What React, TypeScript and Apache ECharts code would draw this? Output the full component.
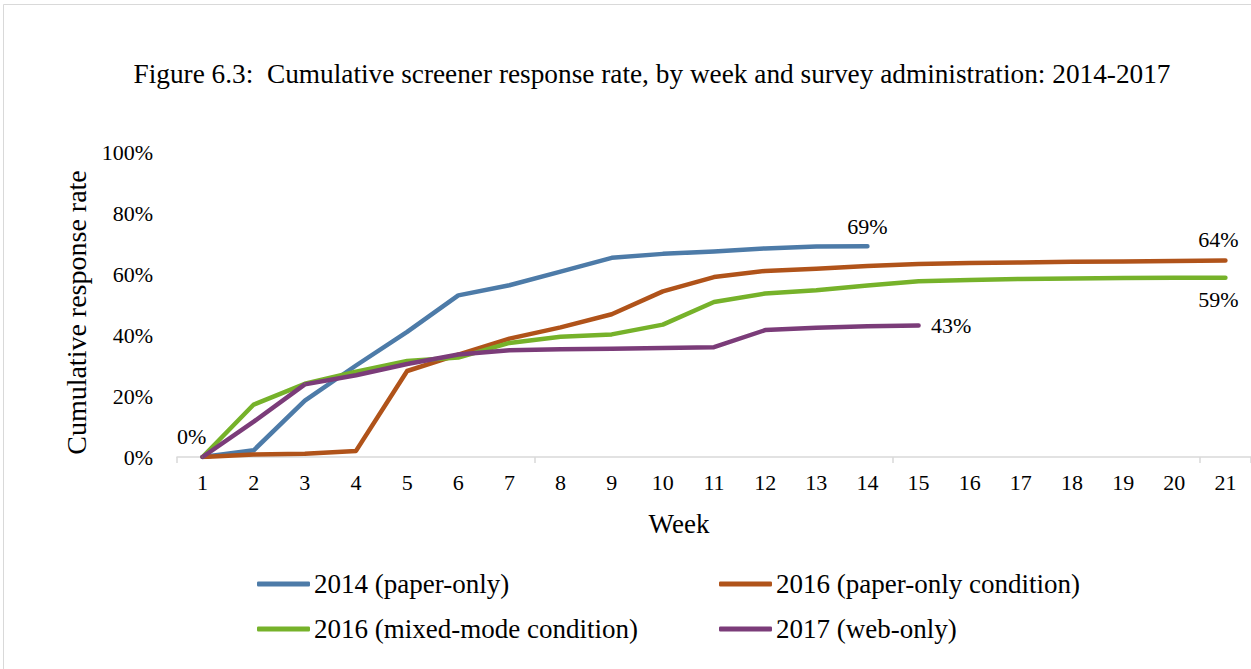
import React, { useEffect, useRef } from "react";
import * as echarts from "echarts";

const weeks = ["1","2","3","4","5","6","7","8","9","10","11","12","13","14","15","16","17","18","19","20","21"];
const yTicks = [0, 20, 40, 60, 80, 100];

const s2014 = [0, 2.2, 18.5, 30, 41, 53, 56.3, 60.8, 65.3, 66.6, 67.4, 68.4, 69, 69.1];
const s2016Paper = [0, 0.8, 1.1, 2, 28.2, 33.6, 38.8, 42.5, 46.8, 54.3, 59, 61, 61.7, 62.6, 63.3, 63.6, 63.8, 64.0, 64.1, 64.3, 64.4];
const s2016Mixed = [0, 17.2, 24, 28, 31.5, 32.6, 37.4, 39.4, 40.2, 43.4, 50.8, 53.6, 54.7, 56.2, 57.6, 58, 58.4, 58.5, 58.7, 58.8, 58.8];
const s2017Web = [0, 11.6, 23.8, 26.8, 30.5, 33.6, 35, 35.3, 35.5, 35.7, 36, 41.6, 42.4, 42.9, 43.1];

const names = ["2014 (paper-only)", "2016 (paper-only condition)", "2016 (mixed-mode condition)", "2017 (web-only)"];
const colors = ["#4d7ba8", "#b0531a", "#76b22a", "#7b3c79"];

const FONT = "'Liberation Serif', 'Times New Roman', serif";

export default function App() {
  const ref = useRef<HTMLDivElement>(null);
  useEffect(() => {
    const chart = echarts.init(ref.current!, null, { renderer: "svg" });
    const lbl = (extra: any) => ({
      show: true,
      fontFamily: FONT,
      fontSize: 22,
      color: "#000",
      formatter: (p: any) => Math.round(p.value) + "%",
      ...extra,
    });
    const withLabels = (arr: number[], labels: Record<number, any>) =>
      arr.map((v, i) => (labels[i] ? { value: v, label: labels[i] } : v));

    const lineSeries = (name: string, data: any[], color: string) => ({
      name,
      type: "line",
      data,
      symbol: "circle",
      symbolSize: 1,
      showSymbol: true,
      smooth: false,
      lineStyle: { color, width: 4.5, cap: "round", join: "round" },
      itemStyle: { color },
      label: { show: false },
      emphasis: { disabled: true },
      z: 3,
    });

    const legendText = { fontFamily: FONT, fontSize: 27, color: "#000", lineHeight: 30, padding: [0, 0, 0, -1] };

    chart.setOption({
      animation: false,
      backgroundColor: "#fff",
      title: {
        text: "Figure 6.3:  Cumulative screener response rate, by week and survey administration: 2014-2017",
        left: 647,
        top: 55,
        textAlign: "center",
        textStyle: { fontFamily: FONT, fontSize: 27.3, fontWeight: "normal", color: "#000" },
      },
      graphic: [
        {
          type: "rect",
          shape: { x: 3.5, y: 4.5, width: 1262, height: 680 },
          style: { fill: "none", stroke: "#d9d9d9", lineWidth: 1 },
          silent: true,
        },
      ],
      grid: { left: 177, top: 152, width: 1077, height: 305, containLabel: false },
      xAxis: {
        type: "category",
        data: weeks,
        boundaryGap: true,
        name: "Week",
        nameLocation: "middle",
        nameGap: 53,
        nameTextStyle: { fontFamily: FONT, fontSize: 27, color: "#000", padding: [0, 70, 0, 0] },
        axisLine: { show: true, lineStyle: { color: "#d9d9d9", width: 1.5 } },
        axisTick: { show: true, interval: 6, length: 6, lineStyle: { color: "#d9d9d9", width: 1.5 } },
        axisLabel: { interval: 0, margin: 14, fontFamily: FONT, fontSize: 22, color: "#000" },
        splitLine: { show: false },
      },
      yAxis: {
        type: "value",
        min: yTicks[0],
        max: yTicks[yTicks.length - 1],
        interval: 20,
        name: "Cumulative response rate",
        nameLocation: "middle",
        nameGap: 83,
        nameRotate: 90,
        nameTextStyle: { fontFamily: FONT, fontSize: 28, color: "#000", padding: [0, 16, 0, 0] },
        axisLine: { show: false },
        axisTick: { show: false },
        splitLine: { show: false },
        axisLabel: { margin: 24, fontFamily: FONT, fontSize: 22, color: "#000", formatter: "{value}%", padding: [0, 0, 3, 0] },
      },
      legend: [
        {
          data: [names[0], names[2]],
          orient: "vertical",
          left: 252,
          top: 564,
          itemWidth: 53,
          itemHeight: 5,
          itemGap: 15,
          icon: "roundRect",
          textStyle: legendText,
          selectedMode: false,
        },
        {
          data: [names[1], names[3]],
          orient: "vertical",
          left: 714,
          top: 564,
          itemWidth: 53,
          itemHeight: 5,
          itemGap: 15,
          icon: "roundRect",
          textStyle: legendText,
          selectedMode: false,
        },
      ],
      series: [
        lineSeries(
          names[0],
          withLabels(s2014, {
            0: lbl({ position: "top", distance: 9, offset: [-11, 0] }),
            [s2014.length - 1]: lbl({ position: "top", distance: 8 }),
          }),
          colors[0]
        ),
        lineSeries(
          names[1],
          withLabels(s2016Paper, {
            [s2016Paper.length - 1]: lbl({ position: "top", distance: 10, offset: [-7, 0] }),
          }),
          colors[1]
        ),
        lineSeries(
          names[2],
          withLabels(s2016Mixed, {
            [s2016Mixed.length - 1]: lbl({ position: "bottom", distance: 10, offset: [-7, 0] }),
          }),
          colors[2]
        ),
        lineSeries(
          names[3],
          withLabels(s2017Web, {
            [s2017Web.length - 1]: lbl({ position: "right", distance: 12 }),
          }),
          colors[3]
        ),
      ],
    });
    return () => chart.dispose();
  }, []);
  return (
    <div
      ref={ref}
      style={{ position: "absolute", left: 0, top: 0, width: 1251, height: 669, background: "#fff" }}
    />
  );
}
